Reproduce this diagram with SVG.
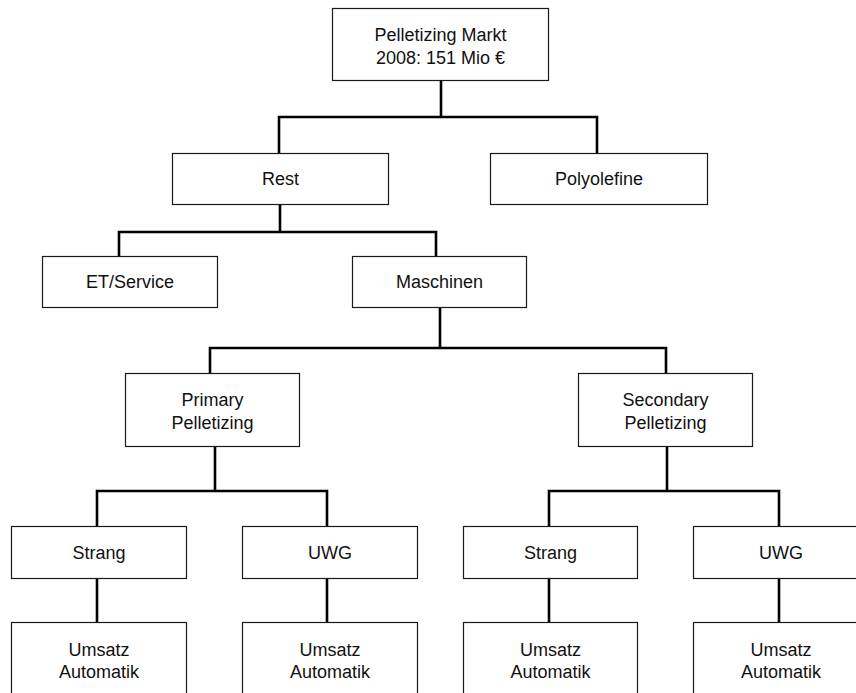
<svg xmlns="http://www.w3.org/2000/svg" width="856" height="693" viewBox="0 0 856 693">
<style>
.box{fill:#fff;stroke:#1a1a1a;stroke-width:1.2}
.t{font-family:"Liberation Sans",Arial,sans-serif;font-size:18px;fill:#111;text-anchor:middle}
.c{fill:none;stroke:#000;stroke-width:2.6;stroke-linejoin:miter;stroke-linecap:butt}
</style>
<rect width="856" height="693" fill="#fff"/>
<g id="connectors">
<path class="c" d="M441 80V117M279 154V117H597V153"/>
<path class="c" d="M280 204V232M119 256V232H436V256"/>
<path class="c" d="M440 308V348M210 373V348H666V373"/>
<path class="c" d="M215 446V491M97 527V491H327V527"/>
<path class="c" d="M667 446V491M549 527V491H779V527"/>
<path class="c" d="M97 578V623M327 578V623M549 578V623M779 578V623"/>
</g>
<g id="n-markt"><rect class="box" x="332.5" y="8.5" width="216" height="72"/><text class="t" x="440.5" y="40.5">Pelletizing Markt</text><text class="t" x="440.5" y="63.5">2008: 151 Mio €</text></g>
<g id="n-rest"><rect class="box" x="172.5" y="153.5" width="216" height="51"/><text class="t" x="280.5" y="185">Rest</text></g>
<g id="n-poly"><rect class="box" x="490.5" y="153.5" width="217" height="51"/><text class="t" x="599" y="185">Polyolefine</text></g>
<g id="n-et"><rect class="box" x="42.5" y="256.5" width="175" height="51"/><text class="t" x="130" y="288">ET/Service</text></g>
<g id="n-masch"><rect class="box" x="352.5" y="256.5" width="174" height="51"/><text class="t" x="439.5" y="288">Maschinen</text></g>
<g id="n-primary"><rect class="box" x="125.5" y="373.5" width="174" height="73"/><text class="t" x="212.5" y="406">Primary</text><text class="t" x="212.5" y="428.5">Pelletizing</text></g>
<g id="n-secondary"><rect class="box" x="578.5" y="373.5" width="174" height="73"/><text class="t" x="665.5" y="406">Secondary</text><text class="t" x="665.5" y="428.5">Pelletizing</text></g>
<g id="n-strang1"><rect class="box" x="11.5" y="526.5" width="175" height="52"/><text class="t" x="99" y="559">Strang</text></g>
<g id="n-uwg1"><rect class="box" x="242.5" y="526.5" width="175" height="52"/><text class="t" x="330" y="559">UWG</text></g>
<g id="n-strang2"><rect class="box" x="463.5" y="526.5" width="174" height="52"/><text class="t" x="550.5" y="559">Strang</text></g>
<g id="n-uwg2"><rect class="box" x="693.5" y="526.5" width="175" height="52"/><text class="t" x="781" y="559">UWG</text></g>
<g id="n-umsatz1"><rect class="box" x="11.5" y="622.5" width="175" height="73"/><text class="t" x="99" y="655.5">Umsatz</text><text class="t" x="99" y="678">Automatik</text></g>
<g id="n-umsatz2"><rect class="box" x="242.5" y="622.5" width="175" height="73"/><text class="t" x="330" y="655.5">Umsatz</text><text class="t" x="330" y="678">Automatik</text></g>
<g id="n-umsatz3"><rect class="box" x="463.5" y="622.5" width="174" height="73"/><text class="t" x="550.5" y="655.5">Umsatz</text><text class="t" x="550.5" y="678">Automatik</text></g>
<g id="n-umsatz4"><rect class="box" x="693.5" y="622.5" width="175" height="73"/><text class="t" x="781" y="655.5">Umsatz</text><text class="t" x="781" y="678">Automatik</text></g>
</svg>
